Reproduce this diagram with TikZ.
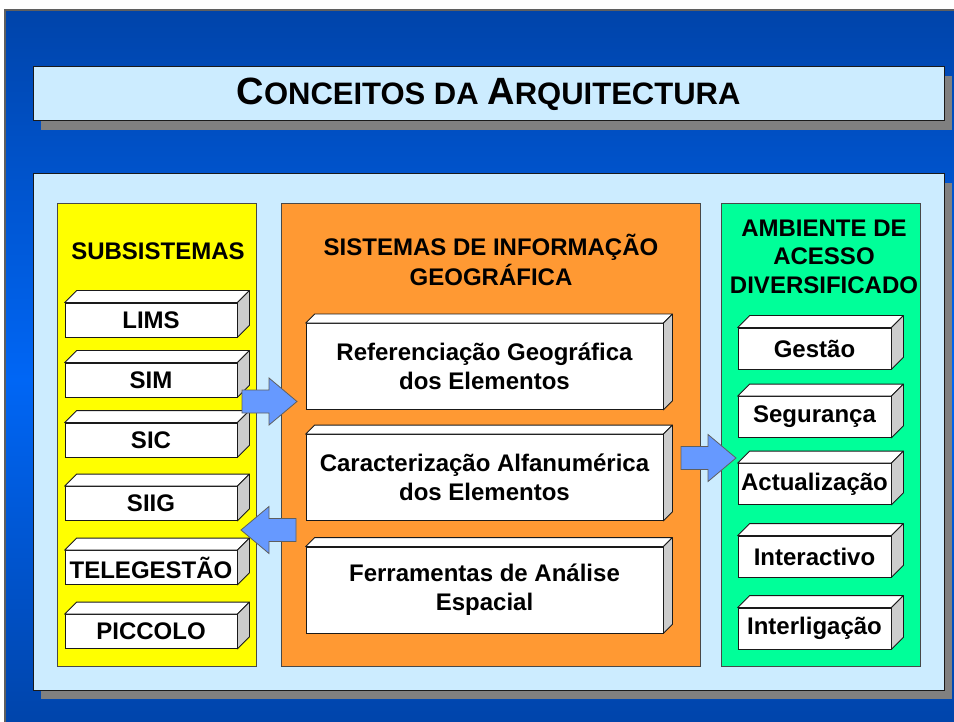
\documentclass[tikz,border=0pt]{standalone}
\usepackage{fontspec}
\setmainfont{Liberation Sans}
\usepackage{tikz}
\usetikzlibrary{positioning, shadows}

\definecolor{panelblue}{HTML}{CCECFF}
\definecolor{subyellow}{HTML}{FFFF00}
\definecolor{sigorange}{HTML}{FF9933}
\definecolor{ambgreen}{HTML}{00FF99}
\definecolor{arrowblue}{HTML}{6699FF}
\definecolor{bgdark}{HTML}{0044AA}
\definecolor{bglight}{HTML}{0066F5}
\definecolor{sidegray}{HTML}{CCCCCC}
\definecolor{shadowgray}{HTML}{808080}
\definecolor{edge}{HTML}{1A1A1A}

% large first letter in the heading
\newcommand{\capletter}[1]{{\fontsize{38}{40}\selectfont #1}}

\begin{document}
\begin{tikzpicture}[x=1pt, y=-1pt,
        every node/.style={font=\bfseries\fontsize{24}{29}\selectfont},
        panel/.style={draw=edge, line width=1pt, fill=panelblue, minimum width=911pt,
            copy shadow={shadow xshift=8pt, shadow yshift=-9pt, fill=shadowgray, draw=none}},
        column/.style={draw=edge!80, line width=0.8pt, minimum width=199pt, minimum height=463pt},
        sub/.style={draw=edge, line width=0.8pt, fill=white, inner sep=0pt, minimum width=172pt, minimum height=34pt},
        sig/.style={draw=edge, line width=0.8pt, fill=white, inner sep=0pt, align=center, minimum width=357pt, minimum height=86pt},
        amb/.style={draw=edge, line width=0.8pt, fill=white, inner sep=0pt, minimum width=153pt, minimum height=41pt},
        face/.style={draw=edge, line width=0.8pt, line join=round},
        bigarrow/.style={draw=edge!70, line width=0.8pt, fill=arrowblue, line join=miter}
    ]

    \useasboundingbox (0,0) rectangle (954,722);

    % Background, light band in the middle
    \shade[top color=bgdark, bottom color=bglight] (5,10) rectangle (958,380);
    \shade[top color=bglight, bottom color=bgdark] (5,379.5) rectangle (958,726);
    \draw[edge!70, line width=1.2pt] (5,726) -- (5,10) -- (958,10);

    % Heading and board
    \node[panel, minimum height=54pt, font=\bfseries\fontsize{31}{36}\selectfont] (title) at (488.5,94)
        {\capletter{C}ONCEITOS DA \capletter{A}RQUITECTURA};
    \node[panel, minimum height=516pt] (board) at (488.5,432) {};

    % Columns
    \node[column, fill=subyellow] (subs) at (156.5,434.5) {};
    \node[column, fill=sigorange, minimum width=419pt] (sigs) at (490.5,434.5) {};
    \node[column, fill=ambgreen] (ambs) at (820.5,434.5) {};

    \node (subtitle) at (158,251) {SUBSISTEMAS};
    \node[align=center, font=\bfseries\fontsize{24}{30}\selectfont] (sigtitle) at (491,260)
        {SISTEMAS DE INFORMAÇÃO\\GEOGRÁFICA};
    \node[align=center, font=\bfseries\fontsize{24}{28.5}\selectfont] (ambtitle) at (824,256.5)
        {AMBIENTE DE\\ACESSO\\DIVERSIFICADO};

    % Subsystems
    \node[sub] (lims) at (151,320) {LIMS};
    \node[sub] (sim) at (151,380) {SIM};
    \node[sub] (sic) at (151,440) {SIC};
    \node[sub] (siig) at (151,503.5) {SIIG};
    \node[sub] (tele) at (151,567.5) {TELEGESTÃO};
    \node[sub] (piccolo) at (151,631.5) {PICCOLO};

    % GIS blocks
    \node[sig] (refgeo) at (484.5,366.5) {Referenciação Geográfica\\dos Elementos};
    \node[sig] (caract) at (484.5,477.5) {Caracterização Alfanumérica\\dos Elementos};
    \node[sig] (ferram) at (484.5,590) {Ferramentas de Análise\\Espacial};

    % Access environment
    \node[amb] (gestao) at (814.5,348.5) {Gestão};
    \node[amb] (seguranca) at (814.5,417) {Segurança};
    \node[amb] (actual) at (814.5,484) {Actualização};
    \node[amb] (interact) at (814.5,556.5) {Interactivo};
    \node[amb] (interlig) at (814.5,628.5) {Interligação};

    % Top and side faces of the boxes
    \foreach \n/\d in {lims/12, sim/12, sic/12, siig/12, tele/12, piccolo/12,
                       refgeo/9, caract/9, ferram/9,
                       gestao/12, seguranca/12, actual/12, interact/12, interlig/12} {
        \draw[face, fill=white] (\n.north west) -- ([shift={(\d,-\d)}]\n.north west)
            -- ([shift={(\d,-\d)}]\n.north east) -- (\n.north east) -- cycle;
        \draw[face, fill=sidegray] (\n.north east) -- ([shift={(\d,-\d)}]\n.north east)
            -- ([shift={(\d,-\d)}]\n.south east) -- (\n.south east) -- cycle;
    }

    % Block arrows
    \coordinate (toSig) at (242,401.5);
    \coordinate (toSub) at (296,530);
    \coordinate (toAmb) at (681,458);
    \foreach \c/\s in {toSig/1, toSub/-1, toAmb/1}
        \draw[bigarrow] (\c) ++(0,-11.5) -- ++(\s*27,0) -- ++(0,-12) -- ++(\s*28,23.5)
            -- ++(-28*\s,23.5) -- ++(0,-12) -- ++(-27*\s,0) -- cycle;

\end{tikzpicture}
\end{document}
